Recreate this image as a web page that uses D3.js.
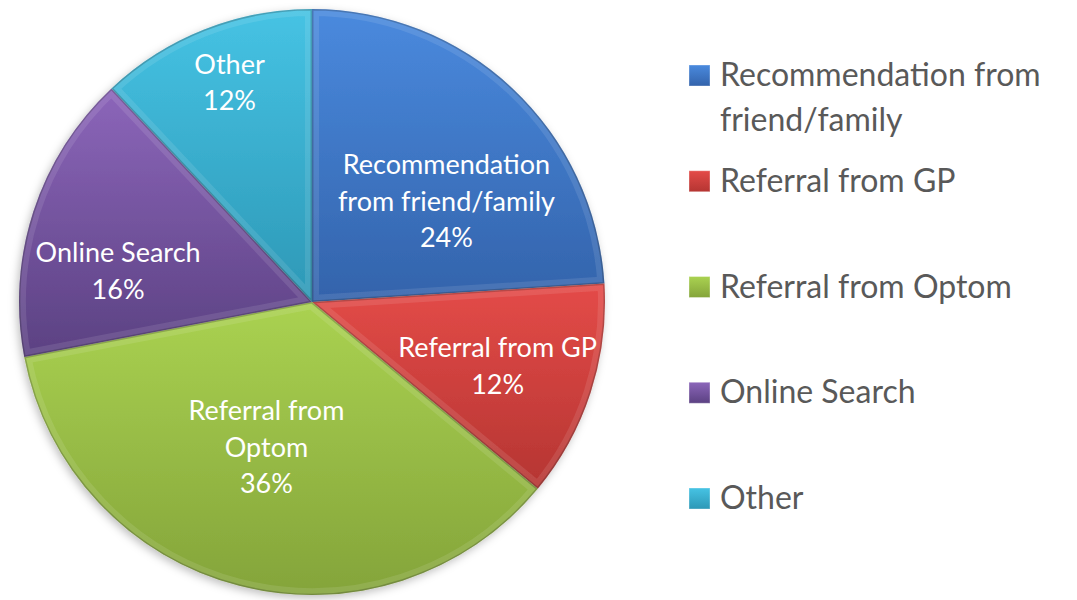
<!doctype html>
<html>
<head>
<meta charset="UTF-8">
<title>Referral sources</title>
<script src="https://cdn.jsdelivr.net/npm/d3@7"></script>
<style>
body { margin: 0; background: #fff; }
svg text { font-family: Lato, "Open Sans", sans-serif; }
</style>
</head>
<body>
<script>
// data
var categories = ["Recommendation from friend/family", "Referral from GP", "Referral from Optom", "Online Search", "Other"];
var values = [24, 12, 36, 16, 12];
var sliceLabels = [["Recommendation", "from friend/family"], ["Referral from GP"], ["Referral from", "Optom"], ["Online Search"], ["Other"]];
var legendLabels = [["Recommendation from", "friend/family"], ["Referral from GP"], ["Referral from Optom"], ["Online Search"], ["Other"]];
var topColors = ["#4a8ade", "#e44b48", "#aad251", "#8c66ba", "#46c3e4"];
var bottomColors = ["#3363ab", "#b53532", "#84a43a", "#5b4182", "#2d98b6"];

var w = 1077, h = 600;
var cx = 312, cy = 302, r = 293;
// where Excel's "best fit" put the labels: radial fraction + angle nudge (deg)
var labelR = [0.573, 0.67, 0.52, 0.67, 0.8];
var labelNudge = [10, 1, 3, -9, 1];

var svg = d3.select("body").append("svg")
  .attr("width", w)
  .attr("height", h);

var defs = svg.append("defs");

var shadow = defs.append("filter").attr("id", "shadow")
  .attr("x", "-10%").attr("y", "-10%").attr("width", "120%").attr("height", "120%");
shadow.append("feDropShadow")
  .attr("dx", -2).attr("dy", 3).attr("stdDeviation", 4)
  .attr("flood-color", "#000").attr("flood-opacity", 0.25);

topColors.forEach(function(c, i) {
  var g = defs.append("linearGradient").attr("id", "grad" + i)
    .attr("x1", 0).attr("y1", 0).attr("x2", 0).attr("y2", 1);
  g.append("stop").attr("offset", "0%").attr("stop-color", c);
  g.append("stop").attr("offset", "100%").attr("stop-color", bottomColors[i]);
});

var pie = d3.pie().sort(null).value(function(d) { return d; });
var arcs = pie(values);
var arc = d3.arc().innerRadius(0).outerRadius(r);

var g = svg.append("g").attr("transform", "translate(" + cx + "," + cy + ")");

// clip per slice so the bevel stays inside
arcs.forEach(function(d, i) {
  defs.append("clipPath").attr("id", "clip" + i)
    .append("path").attr("transform", "translate(" + cx + "," + cy + ")").attr("d", arc(d));
});

var slices = g.append("g").attr("filter", "url(#shadow)");
slices.selectAll("path.slice")
  .data(arcs)
  .enter()
  .append("path")
  .attr("class", "slice")
  .attr("d", arc)
  .attr("fill", function(d, i) { return "url(#grad" + i + ")"; });

// soft bevel: faint light rim, dark seam
var bevel = svg.append("g");
arcs.forEach(function(d, i) {
  var b = bevel.append("g").attr("clip-path", "url(#clip" + i + ")");
  b.append("path")
    .attr("transform", "translate(" + cx + "," + cy + ")")
    .attr("d", arc(d))
    .attr("fill", "none")
    .attr("stroke", "#fff")
    .attr("stroke-opacity", 0.1)
    .attr("stroke-width", 14);
  b.append("path")
    .attr("transform", "translate(" + cx + "," + cy + ")")
    .attr("d", arc(d))
    .attr("fill", "none")
    .attr("stroke", "#000")
    .attr("stroke-opacity", 0.2)
    .attr("stroke-width", 3);
});

// slice labels
var labels = g.selectAll("text.labels")
  .data(arcs)
  .enter()
  .append("text")
  .attr("class", "labels")
  .attr("text-anchor", "middle")
  .attr("fill", "#fff")
  .attr("font-size", "27px")
  .attr("transform", function(d, i) {
    var a = (d.startAngle + d.endAngle) / 2 + labelNudge[i] * Math.PI / 180;
    var rr = r * labelR[i];
    return "translate(" + (rr * Math.sin(a)) + "," + (-rr * Math.cos(a)) + ")";
  });

labels.each(function(d, i) {
  var lines = sliceLabels[i].concat([values[i] + "%"]);
  var t = d3.select(this);
  var lh = 36.5;
  var y0 = -(lines.length - 1) * lh / 2;
  lines.forEach(function(s, k) {
    t.append("tspan")
      .attr("x", 0)
      .attr("y", y0 + k * lh)
      .attr("dy", "0.35em")
      .text(s);
  });
});

// legend
var legendY = d3.scalePoint()
  .domain(categories)
  .range([75, 498]);

var legend = svg.append("g").attr("class", "legend");
var items = legend.selectAll("g.item")
  .data(categories)
  .enter()
  .append("g")
  .attr("class", "item")
  .attr("transform", function(d) { return "translate(689," + legendY(d) + ")"; });

items.append("rect")
  .attr("x", 0)
  .attr("y", -10)
  .attr("width", 21)
  .attr("height", 21)
  .attr("fill", function(d, i) { return "url(#grad" + i + ")"; })
  .attr("stroke", "#fff")
  .attr("stroke-opacity", 0.35)
  .attr("stroke-width", 1);

items.each(function(d, i) {
  var t = d3.select(this).append("text")
    .attr("x", 31)
    .attr("fill", "#595959")
    .attr("font-size", "32px");
  legendLabels[i].forEach(function(s, k) {
    t.append("tspan").attr("x", 31).attr("y", k * 45).attr("dy", "0.35em").text(s);
  });
});
</script>
</body>
</html>
